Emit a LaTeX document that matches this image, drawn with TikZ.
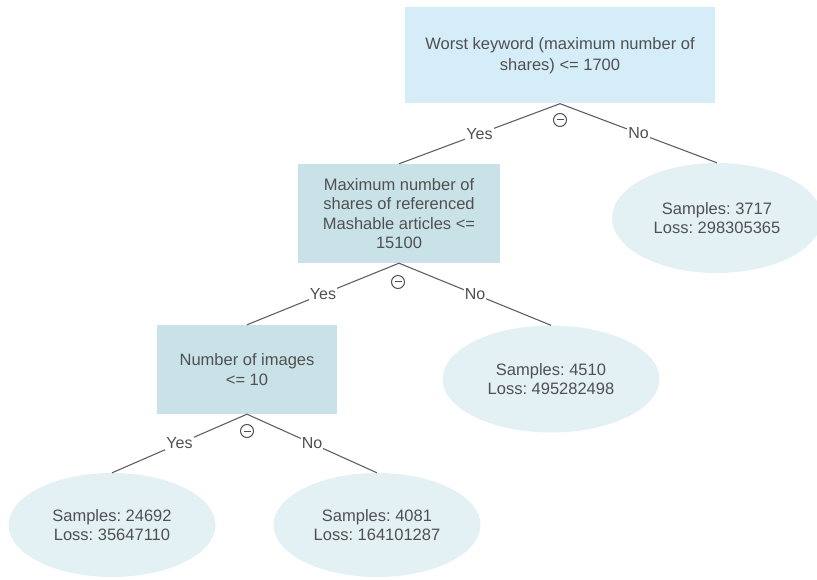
\documentclass[tikz,border=0pt]{standalone}
\usepackage{fontspec}
\setmainfont{Liberation Sans}
\frenchspacing
\usetikzlibrary{shapes.geometric}
\definecolor{txt}{HTML}{505050}
\definecolor{rootc}{HTML}{D4EDF8}
\definecolor{splitc}{HTML}{C9E2E8}
\definecolor{leafc}{HTML}{E3F1F4}
\definecolor{edgec}{HTML}{606060}
\tikzset{
  rootbox/.style={fill=rootc, draw=none, minimum width=310pt, minimum height=96pt, align=center, text=txt, font=\fontsize{16.5}{20.5}\selectfont, inner sep=0pt},
  splitbox/.style={fill=splitc, draw=none, align=center, text=txt, font=\fontsize{16.5}{19.5}\selectfont, inner sep=0pt},
  leaf/.style={ellipse, fill=leafc, draw=none, align=center, text=txt, font=\fontsize{16.5}{19.5}\selectfont, inner sep=0pt},
  edge/.style={draw=edgec, line width=1.1pt},
  elabel/.style={fill=white, text=txt, font=\fontsize{16}{18}\selectfont, inner sep=1pt},
  colmark/.style={circle, draw=txt, line width=1pt, minimum size=13pt, inner sep=0pt,
    path picture={\draw[txt, line width=1pt] ([xshift=3pt]path picture bounding box.west) -- ([xshift=-3pt]path picture bounding box.east);}}
}
\begin{document}
\begin{tikzpicture}[x=1pt,y=-1pt]
\useasboundingbox (0,0) rectangle (817,580);
% nodes
\node[rootbox] (root) at (560,55.5) {Worst keyword (maximum number of\\shares) <= 1700};
\node[splitbox, minimum width=202pt, minimum height=99pt] (s2) at (399,213.5) {Maximum number of\\shares of referenced\\Mashable articles <=\\15100};
\node[splitbox, minimum width=180pt, minimum height=89pt] (s3) at (247,369.5) {Number of images\\<= 10};
\node[leaf, minimum width=210pt, minimum height=110pt] (l1) at (717,218) {Samples: 3717\\Loss: 298305365};
\node[leaf, minimum width=217pt, minimum height=107pt] (l2) at (551,379) {Samples: 4510\\Loss: 495282498};
\node[leaf, minimum width=207pt, minimum height=104pt] (l3) at (112,525) {Samples: 24692\\Loss: 35647110};
\node[leaf, minimum width=207pt, minimum height=104pt] (l4) at (377,525) {Samples: 4081\\Loss: 164101287};
% connectors
\draw[edge] (root.south) -- node[elabel]{Yes} (s2.north);
\draw[edge] (root.south) -- node[elabel]{No} (l1.north);
\draw[edge] (s2.south) -- node[elabel]{Yes} (s3.north);
\draw[edge] (s2.south) -- node[elabel]{No} (l2.north);
\draw[edge] (s3.south) -- node[elabel]{Yes} (l3.north);
\draw[edge] (s3.south) -- node[elabel]{No} (l4.north);
% collapse markers
\node[colmark] (m1) at (560,120) {};
\node[colmark] (m2) at (398,282) {};
\node[colmark] (m3) at (247,431) {};
\end{tikzpicture}
\end{document}
